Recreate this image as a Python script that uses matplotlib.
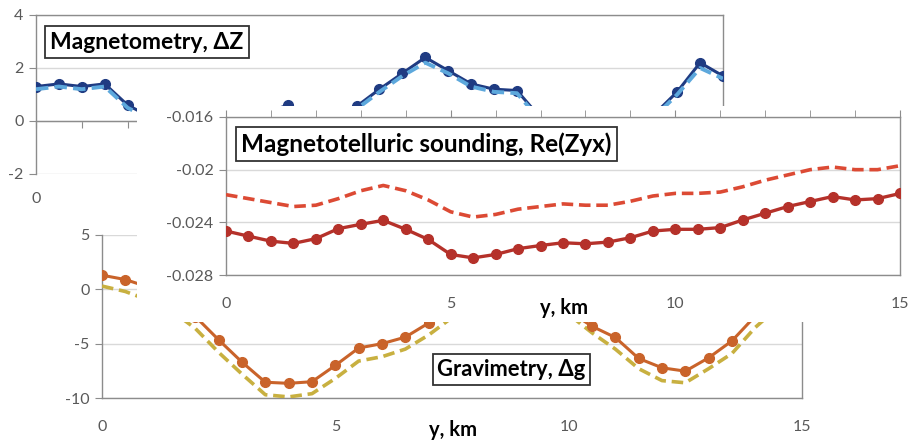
import numpy as np
import matplotlib
matplotlib.use("Agg")
import matplotlib.pyplot as plt
from matplotlib.ticker import MultipleLocator, FixedLocator

plt.rcParams['font.family'] = ['Lato', 'DejaVu Sans']
plt.rcParams['axes.unicode_minus'] = False

# profile coordinate, km (every 0.5 km)
y_km = np.arange(31) * 0.5

# magnetometry, dZ
mag_obs = [1.3, 1.4, 1.3, 1.4, 0.6, 0.15, -0.3, -0.6, -0.5, -0.1, 0.3, 0.6, 0.2, 0.1, 0.55, 1.2,
           1.8, 2.4, 1.9, 1.4, 1.2, 1.15, 0.15, -0.5, -0.9, -1.0, -0.6, 0.25, 1.1, 2.2, 1.7]
mag_mod = [1.2, 1.3, 1.2, 1.3, 0.5, 0.05, -0.4, -0.7, -0.6, -0.2, 0.2, 0.5, 0.1, 0.0, 0.45, 1.1,
           1.7, 2.2, 1.8, 1.3, 1.1, 1.05, 0.05, -0.6, -1.0, -1.1, -0.7, 0.15, 1.0, 2.0, 1.6]

# magnetotelluric sounding, Re(Zyx)
mt_obs = [-0.02466, -0.02505, -0.02543, -0.0256, -0.02524, -0.02448, -0.02415, -0.02385,
          -0.02453, -0.0253, -0.02644, -0.0267, -0.02644, -0.026, -0.02576, -0.02555,
          -0.02563, -0.0255, -0.02517, -0.02466, -0.02453, -0.02453, -0.0244, -0.02382,
          -0.02331, -0.0228, -0.02242, -0.02204, -0.0223, -0.0222, -0.02181]
mt_mod = [-0.0219, -0.0222, -0.0225, -0.0228, -0.0227, -0.0222, -0.0216, -0.0212,
          -0.0216, -0.0223, -0.0232, -0.0236, -0.0234, -0.0230, -0.0228, -0.0226,
          -0.0227, -0.0227, -0.0224, -0.0220, -0.0218, -0.0218, -0.0217, -0.0213,
          -0.0208, -0.0204, -0.0200, -0.0198, -0.0200, -0.0200, -0.0197]

# gravimetry, dg
grav_obs = [1.3, 0.9, 0.2, -0.8, -2.5, -4.65, -6.7, -8.55, -8.65, -8.5, -7.0, -5.4, -5.0, -4.4,
            -3.1, -1.5, -0.3, 0.4, 0.5, 0.0, -2.0, -3.4, -4.43, -6.36, -7.22, -7.53, -6.3, -4.74,
            -2.45, -0.5, 0.8]
grav_mod = [0.3, -0.2, -1.0, -2.0, -3.6, -5.8, -7.8, -9.7, -9.9, -9.6, -8.2, -6.6, -6.2, -5.5,
            -4.2, -2.6, -1.4, -0.7, -0.6, -1.1, -2.3, -4.0, -5.5, -7.3, -8.4, -8.6, -7.3, -5.9,
            -3.5, -1.6, -0.3]

mag_yticks = [-2, 0, 2, 4]
mt_yticks = [-0.028, -0.024, -0.02, -0.016]
mt_ylabels = ['-0.028', '-0.024', '-0.02', '-0.016']
grav_yticks = [-10, -5, 0, 5]
x_labels = [0, 5, 10, 15]

W, H = 912, 443
AX = '#8C8C8C'
GRID = '#D9D9D9'
TXT = '#595959'
TICKFS = 11.5


def rect(x0, y0, x1, y1):
    # pixel box (top-left origin) -> figure fraction
    return [x0 / W, 1 - y1 / H, (x1 - x0) / W, (y1 - y0) / H]


def title_box(ax, x, y, s, fs):
    ax.text(x, y, s, transform=ax.transAxes, ha='center', va='center', fontsize=fs,
            fontweight='bold', color='black', zorder=10,
            bbox=dict(boxstyle='square,pad=0.22', fc='white', ec='#333333', lw=1.3))


def base_style(ax):
    for sp in ax.spines.values():
        sp.set_color(AX)
        sp.set_linewidth(1.0)
    ax.tick_params(axis='y', direction='out', length=5, color=AX, labelcolor=TXT,
                   labelsize=TICKFS, pad=4)
    ax.grid(axis='y', color=GRID, lw=1.0)
    ax.set_axisbelow(True)


fig = plt.figure(figsize=(W / 100, H / 100), dpi=100)

# ---- gravimetry (back)
ax_g = fig.add_axes(rect(102, 235, 802, 398), zorder=1)
base_style(ax_g)
ax_g.plot(y_km, grav_mod, color='#C8B040', lw=2.6, ls=(0, (3.2, 1.6)), zorder=3)
ax_g.plot(y_km, grav_obs, color='#C9632A', lw=2.2, marker='o', ms=7, zorder=4)
ax_g.set_xlim(0, 15)
ax_g.set_ylim(-10, 5)
ax_g.set_yticks(grav_yticks)
ax_g.set_xticks(x_labels)
ax_g.spines['top'].set_visible(False)
ax_g.tick_params(axis='x', length=0, labelcolor=TXT, labelsize=TICKFS, pad=16)
ax_g.text(0.501, -0.196, 'y, km', transform=ax_g.transAxes, ha='center', va='center',
          fontsize=14.5, fontweight='bold')
title_box(ax_g, 0.585, 0.175, 'Gravimetry, Δg', 15.8)

# ---- magnetometry (middle)
ax_m = fig.add_axes(rect(36, 15, 723, 174), zorder=2)
base_style(ax_m)
ax_m.plot(y_km, mag_obs, color='#1F3B82', lw=2.2, marker='o', ms=7, zorder=3)
ax_m.plot(y_km, mag_mod, color='#5DA8DC', lw=2.8, ls=(0, (3.2, 1.6)), zorder=4)
ax_m.set_xlim(0, 15)
ax_m.set_ylim(-2, 4)
ax_m.set_yticks(mag_yticks)
ax_m.spines['bottom'].set_position(('data', 0))
ax_m.xaxis.set_major_locator(MultipleLocator(1))
ax_m.tick_params(axis='x', direction='out', length=5, color=AX, labelbottom=False)
for v in x_labels:
    ax_m.annotate(str(v), (v, -2), xytext=(0, -13), textcoords='offset points', ha='center',
                  va='top', color=TXT, fontsize=TICKFS, annotation_clip=False)
title_box(ax_m, 0.1616, 0.83, 'Magnetometry, ΔZ', 16.5)

# ---- magnetotelluric sounding (front)
ax_bg = fig.add_axes(rect(137, 106, 912, 322), zorder=5)
ax_bg.set_facecolor('white')
ax_bg.set_xticks([])
ax_bg.set_yticks([])
for sp in ax_bg.spines.values():
    sp.set_visible(False)

ax_t = fig.add_axes(rect(226, 117, 900, 275), zorder=6)
base_style(ax_t)
ax_t.plot(y_km, mt_mod, color='#DC4A34', lw=2.6, ls=(0, (3.2, 1.6)), zorder=3)
ax_t.plot(y_km, mt_obs, color='#B5312A', lw=2.4, marker='o', ms=7, zorder=4)
ax_t.set_xlim(0, 15)
ax_t.set_ylim(-0.028, -0.016)
ax_t.yaxis.set_major_locator(FixedLocator(mt_yticks))
ax_t.set_yticklabels(mt_ylabels)
ax_t.xaxis.set_major_locator(FixedLocator(x_labels))
ax_t.xaxis.set_minor_locator(MultipleLocator(1))
ax_t.tick_params(axis='x', which='both', top=True, bottom=False, labeltop=False,
                 labelbottom=True, direction='out', length=5, color=AX,
                 labelcolor=TXT, labelsize=TICKFS, pad=11)
ax_t.text(0.5015, -0.209, 'y, km', transform=ax_t.transAxes, ha='center', va='center',
          fontsize=14.5, fontweight='bold')
title_box(ax_t, 0.2975, 0.829, 'Magnetotelluric sounding, Re(Zyx)', 17.5)

fig.savefig('out.png', dpi=100, facecolor='white')
